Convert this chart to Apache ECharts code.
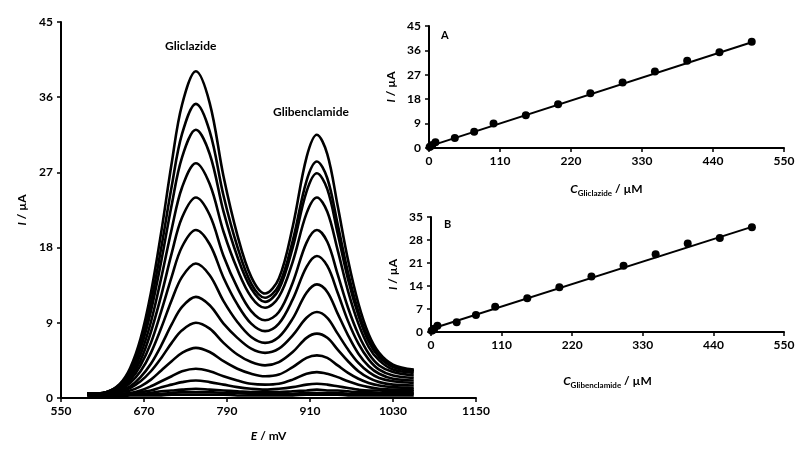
<!DOCTYPE html>
<html>
<head>
<meta charset="utf-8">
<script src="https://cdn.jsdelivr.net/npm/echarts@6/dist/echarts.min.js"></script>
<style>
html, body { margin: 0; padding: 0; background: #fff; }
#main { width: 800px; height: 450px; }
</style>
</head>
<body>
<div id="main"></div>
<script>
// potentials (mV) at which each scan is read
var potentials = [588, 615, 635, 650, 665, 680, 695, 710, 725, 745, 765, 785, 805, 825, 845, 865, 885, 905, 920, 935, 950, 965, 980, 995, 1010, 1030, 1060];

// DPV scans, highest first (µA)
var scan01 = [0.5, 0.7, 1.7, 3.6, 7.1, 12.6, 19.9, 28.1, 35.1, 39.1, 35.3, 26.5, 19.5, 14.5, 12.5, 14.3, 20.5, 28.8, 31.5, 29.2, 23.0, 16.5, 11.3, 7.6, 5.4, 4.0, 3.4];
var scan02 = [0.5, 0.7, 1.6, 3.3, 6.4, 11.4, 18.0, 25.3, 31.6, 35.2, 31.9, 24.2, 18.1, 13.7, 12.0, 13.5, 18.8, 26.0, 28.3, 26.3, 20.8, 15.0, 10.3, 7.0, 5.1, 3.8, 3.3];
var scan03 = [0.5, 0.7, 1.5, 3.0, 5.9, 10.4, 16.4, 23.1, 28.8, 32.1, 29.2, 22.3, 16.9, 13.1, 11.5, 13.0, 18.0, 24.7, 26.9, 25.0, 19.7, 14.2, 9.9, 6.7, 4.9, 3.7, 3.2];
var scan04 = [0.5, 0.6, 1.4, 2.7, 5.2, 9.1, 14.4, 20.2, 25.2, 28.1, 25.6, 19.9, 15.4, 12.1, 10.8, 12.1, 16.3, 22.1, 24.0, 22.3, 17.7, 12.8, 8.9, 6.1, 4.5, 3.4, 3.0];
var scan05 = [0.5, 0.6, 1.2, 2.4, 4.5, 7.9, 12.3, 17.3, 21.6, 24.0, 21.9, 17.0, 13.2, 10.4, 9.3, 10.3, 13.8, 18.6, 20.1, 18.7, 14.8, 10.8, 7.6, 5.3, 3.9, 3.1, 2.7];
var scan06 = [0.5, 0.6, 1.1, 2.1, 3.9, 6.6, 10.4, 14.5, 18.1, 20.1, 18.4, 14.4, 11.2, 8.9, 8.0, 8.9, 11.8, 15.7, 17.0, 15.8, 12.6, 9.2, 6.5, 4.6, 3.4, 2.7, 2.4];
var scan07 = [0.5, 0.6, 1.0, 1.8, 3.2, 5.4, 8.4, 11.7, 14.5, 16.1, 14.7, 11.6, 9.1, 7.3, 6.6, 7.3, 9.5, 12.6, 13.6, 12.7, 10.1, 7.5, 5.3, 3.8, 2.9, 2.3, 2.1];
var scan08 = [0.5, 0.6, 0.9, 1.4, 2.5, 4.1, 6.3, 8.8, 10.9, 12.1, 11.1, 8.9, 7.2, 5.9, 5.4, 5.9, 7.5, 9.6, 10.3, 9.6, 7.7, 5.8, 4.2, 3.1, 2.4, 2.0, 1.8];
var scan09 = [0.5, 0.5, 0.8, 1.2, 2.0, 3.2, 4.8, 6.6, 8.1, 9.0, 8.3, 6.6, 5.2, 4.3, 3.9, 4.3, 5.5, 7.2, 7.7, 7.2, 5.8, 4.4, 3.2, 2.4, 1.9, 1.6, 1.5];
var scan10 = [0.5, 0.5, 0.7, 0.9, 1.4, 2.2, 3.3, 4.4, 5.4, 6.0, 5.5, 4.4, 3.5, 2.9, 2.6, 2.8, 3.7, 4.8, 5.1, 4.8, 3.9, 3.0, 2.3, 1.8, 1.5, 1.3, 1.2];
var scan11 = [0.4, 0.4, 0.5, 0.6, 0.9, 1.4, 2.0, 2.6, 3.2, 3.5, 3.2, 2.6, 2.1, 1.7, 1.6, 1.7, 2.2, 2.9, 3.1, 2.9, 2.5, 2.0, 1.6, 1.3, 1.1, 1.0, 1.0];
var scan12 = [0.4, 0.4, 0.5, 0.5, 0.7, 0.9, 1.3, 1.6, 1.9, 2.1, 1.9, 1.6, 1.3, 1.1, 1.0, 1.1, 1.3, 1.6, 1.7, 1.6, 1.4, 1.2, 1.0, 0.9, 0.9, 0.8, 0.8];
var scan13 = [0.4, 0.4, 0.4, 0.5, 0.5, 0.6, 0.8, 0.9, 1.0, 1.1, 1.0, 0.9, 0.8, 0.7, 0.7, 0.7, 0.8, 0.9, 1.0, 0.9, 0.9, 0.8, 0.7, 0.7, 0.6, 0.6, 0.6];
var scan14 = [0.3, 0.3, 0.3, 0.4, 0.4, 0.5, 0.5, 0.6, 0.7, 0.7, 0.7, 0.6, 0.6, 0.5, 0.5, 0.5, 0.5, 0.6, 0.6, 0.6, 0.6, 0.5, 0.5, 0.5, 0.5, 0.5, 0.5];
var scan15 = [0.2, 0.2, 0.2, 0.3, 0.3, 0.3, 0.3, 0.4, 0.4, 0.4, 0.4, 0.4, 0.3, 0.3, 0.3, 0.3, 0.3, 0.4, 0.4, 0.4, 0.4, 0.3, 0.3, 0.3, 0.3, 0.3, 0.3];
var scans = [scan01, scan02, scan03, scan04, scan05, scan06, scan07, scan08, scan09, scan10, scan11, scan12, scan13, scan14, scan15];

// calibration insets
var concentrations = [1, 3, 5, 10, 40, 70, 100, 150, 200, 250, 300, 350, 400, 450, 500];
var gliclazidePeaks = [0.4, 0.7, 1.1, 2.1, 3.7, 6.0, 9.0, 12.1, 16.1, 20.2, 24.2, 28.2, 32.2, 35.3, 39.2];
var glibenclamidePeaks = [0.4, 0.6, 1.0, 1.9, 3.0, 5.2, 7.7, 10.3, 13.6, 16.9, 20.2, 23.7, 26.9, 28.6, 31.9];
var fitA = [[0, 0.6], [500, 39.0]];
var fitB = [[0, 0.9], [500, 32.0]];

var mainTicksX = [550, 1150, 120];
var mainTicksY = [0, 45, 9];
var insetTicksX = [0, 550, 110];
var insetTicksYA = [0, 45, 9];
var insetTicksYB = [0, 35, 7];

var font = 'Lato, "Open Sans", sans-serif';

function pairs(xs, ys) {
    var out = [];
    for (var i = 0; i < xs.length; i++) out.push([xs[i], ys[i]]);
    return out;
}

function valueAxis(idx, ticks, name, nameGap, isY) {
    return {
        type: 'value',
        gridIndex: idx,
        min: ticks[0], max: ticks[1], interval: ticks[2],
        splitLine: {show: false},
        axisLine: {onZero: false, lineStyle: {color: '#000', width: 2}},
        axisTick: {show: true, inside: false, length: 4, lineStyle: {color: '#000', width: 1.5}},
        axisLabel: {
            color: '#000', fontFamily: font, fontWeight: 'bold', fontSize: 12, margin: isY ? 8 : 7,
            formatter: function (v) { return String(v); }
        },
        name: name,
        nameLocation: 'middle',
        nameGap: nameGap,
        nameRotate: isY ? 90 : 0,
        nameTextStyle: {
            color: '#000', fontFamily: font, fontWeight: 'bold', fontSize: 12,
            rich: {
                it: {fontStyle: 'italic', fontWeight: 'bold', fontSize: 12, fontFamily: font, color: '#000'},
                sub: {fontWeight: 'bold', fontSize: 8, fontFamily: font, color: '#000', padding: [7, 0, 0, 0]}
            }
        }
    };
}

var series = [];
for (var k = 0; k < scans.length; k++) {
    series.push({
        type: 'line',
        xAxisIndex: 0, yAxisIndex: 0,
        data: pairs(potentials, scans[k]),
        smooth: 0.35,
        symbol: 'none',
        silent: true,
        lineStyle: {color: '#000', width: 2.6}
    });
}
series.push({type: 'line', xAxisIndex: 1, yAxisIndex: 1, data: fitA, symbol: 'none', lineStyle: {color: '#000', width: 2}});
series.push({type: 'scatter', xAxisIndex: 1, yAxisIndex: 1, data: pairs(concentrations, gliclazidePeaks), symbolSize: 8, itemStyle: {color: '#000', opacity: 1}});
series.push({type: 'line', xAxisIndex: 2, yAxisIndex: 2, data: fitB, symbol: 'none', lineStyle: {color: '#000', width: 2}});
series.push({type: 'scatter', xAxisIndex: 2, yAxisIndex: 2, data: pairs(concentrations, glibenclamidePeaks), symbolSize: 8, itemStyle: {color: '#000', opacity: 1}});

var option = {
    backgroundColor: '#fff',
    animation: false,
    grid: [
        {left: 61, top: 22, width: 415, height: 376},
        {left: 429, top: 26, width: 355, height: 122},
        {left: 431, top: 217, width: 353, height: 115}
    ],
    xAxis: [
        valueAxis(0, mainTicksX, '{it|E} / mV', 32, false),
        valueAxis(1, insetTicksX, '{it|C}{sub|Gliclazide} / µM', 34, false),
        valueAxis(2, insetTicksX, '{it|C}{sub|Glibenclamide} / µM', 42, false)
    ],
    yAxis: [
        valueAxis(0, mainTicksY, '{it|I} / µA', 32, true),
        valueAxis(1, insetTicksYA, '{it|I} / µA', 32, true),
        valueAxis(2, insetTicksYB, '{it|I} / µA', 32, true)
    ],
    graphic: [
        {type: 'text', left: 165, top: 40, style: {text: 'Gliclazide', font: 'bold 12px ' + font, fill: '#000'}},
        {type: 'text', left: 273, top: 106, style: {text: 'Glibenclamide', font: 'bold 12px ' + font, fill: '#000'}},
        {type: 'text', left: 441, top: 30, style: {text: 'A', font: 'bold 11px ' + font, fill: '#000'}},
        {type: 'text', left: 444, top: 219, style: {text: 'B', font: 'bold 11px ' + font, fill: '#000'}}
    ],
    series: series
};

var myChart = echarts.init(document.getElementById('main'));
myChart.setOption(option);
</script>
</body>
</html>
